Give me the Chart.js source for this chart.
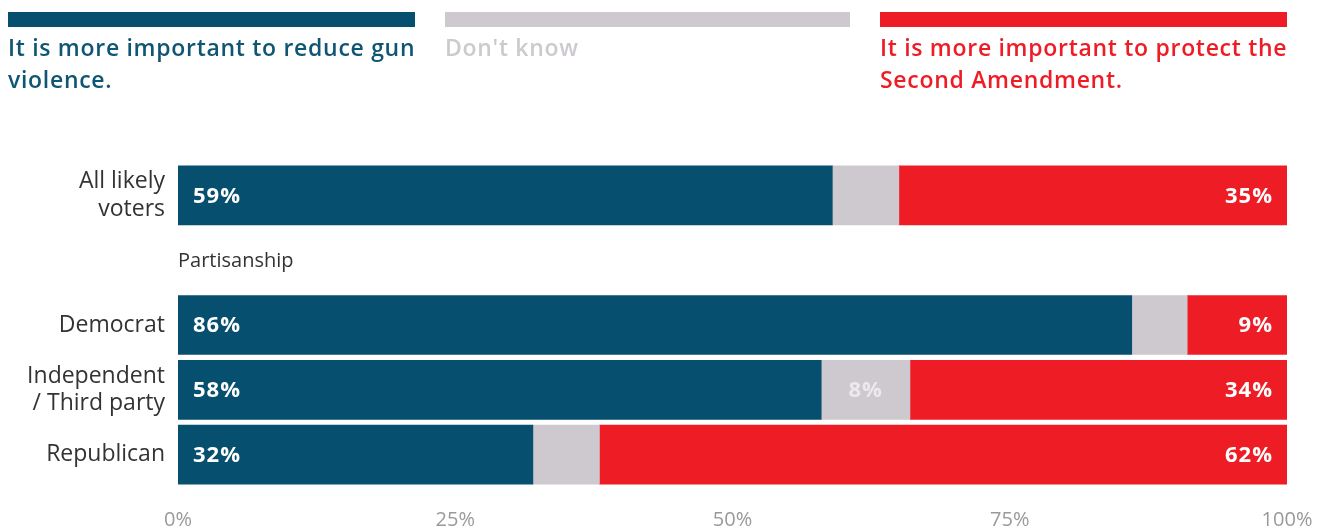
<!DOCTYPE html>
<html>
<head>
<meta charset="utf-8">
<script src="https://cdn.jsdelivr.net/npm/chart.js@4/dist/chart.umd.min.js"></script>
<style>
  html, body { margin: 0; padding: 0; background: #fff; }
  #wrap { position: relative; width: 1326px; height: 531px; }
  #legend { position: absolute; left: 0; top: 0; width: 1326px; height: 150px; }
  .item { position: absolute; top: 12px; }
  .swatch { height: 15px; }
  .txt { font-family: "Open Sans", sans-serif; font-weight: 600; font-size: 23px; letter-spacing: 0.7px; line-height: 32px; margin-top: 4px; white-space: pre; }
</style>
</head>
<body>
<div id="wrap">
  <canvas id="myChart" width="1326" height="531"></canvas>
  <div id="legend"></div>
</div>
<script>
'use strict';

// Categories (index 1 is the empty row holding the "Partisanship" heading)
var categories = [["All likely", "voters"], "", "Democrat", ["Independent", "/ Third party"], "Republican"];
var sectionLabels = ["", "Partisanship", "", "", ""];

// Series values (percent)
var seriesNames = ["It is more important to reduce gun\nviolence.", "Don't know", "It is more important to protect the\nSecond Amendment."];
var reduceViolence = [59, null, 86, 58, 32];
var dontKnow = [6, null, 5, 8, 6];
var protectSecond = [35, null, 9, 34, 62];

var xTicks = [0, 25, 50, 75, 100];

var colors = ["#064f6e", "#cdc9ce", "#ee1d25"];
var legendText = ["#0f5674", "#cdc9ce", "#ee1d25"];

(function () {
   // Legend over the top of the canvas
   var legendPos = [[8, 407], [445, 405], [880, 407]];
   var legend = document.getElementById('legend');
   for (var i = 0; i < seriesNames.length; i++) {
      var el = document.createElement('div');
      el.className = 'item';
      el.style.left = legendPos[i][0] + 'px';
      el.style.width = legendPos[i][1] + 'px';
      el.innerHTML = '<div class="swatch" style="background:' + colors[i] + '"></div>' +
         '<div class="txt" style="color:' + legendText[i] + '"></div>';
      el.querySelector('.txt').textContent = seriesNames[i];
      legend.appendChild(el);
   }

   // Draws the percentages inside the bars and the section heading
   var barLabels = {
      id: 'barLabels',
      afterDatasetsDraw: function (chart) {
         var ctx = chart.ctx;
         ctx.save();
         ctx.textBaseline = 'middle';
         ctx.font = '700 22px "Open Sans", sans-serif';
         ctx.letterSpacing = '1px';
         chart.data.datasets.forEach(function (ds, di) {
            var meta = chart.getDatasetMeta(di);
            meta.data.forEach(function (bar, i) {
               var v = ds.data[i];
               if (v == null) return;
               var left = Math.min(bar.x, bar.base);
               var right = Math.max(bar.x, bar.base);
               if (di === 0) {
                  ctx.fillStyle = '#ffffff';
                  ctx.textAlign = 'left';
                  ctx.fillText(v + '%', left + 15, bar.y + 1);
               } else if (di === 2) {
                  ctx.fillStyle = '#ffffff';
                  ctx.textAlign = 'right';
                  ctx.fillText(v + '%', right - 14, bar.y + 1);
               } else if (v >= 8) {
                  ctx.fillStyle = '#ebe9ec';
                  ctx.textAlign = 'center';
                  ctx.fillText(v + '%', (left + right) / 2, bar.y + 1);
               }
            });
         });
         // section heading
         var y = chart.scales.y;
         ctx.letterSpacing = '0px';
         ctx.font = '400 20px "Open Sans", sans-serif';
         ctx.fillStyle = '#333333';
         ctx.textAlign = 'left';
         sectionLabels.forEach(function (s, i) {
            if (s) ctx.fillText(s, chart.chartArea.left, y.getPixelForValue(i) + 1);
         });
         ctx.restore();
      }
   };

   var ctx = document.getElementById('myChart');
   new Chart(ctx, {
      type: 'bar',
      data: {
         labels: categories,
         datasets: [
            { label: seriesNames[0], data: reduceViolence, backgroundColor: colors[0], barThickness: 59 },
            { label: seriesNames[1], data: dontKnow, backgroundColor: colors[1], barThickness: 59 },
            { label: seriesNames[2], data: protectSecond, backgroundColor: colors[2], barThickness: 59 }
         ]
      },
      options: {
         indexAxis: 'y',
         responsive: false,
         animation: false,
         layout: { padding: { top: 163, right: 39, left: 0, bottom: 0 } },
         plugins: { legend: { display: false }, tooltip: { enabled: false } },
         scales: {
            x: {
               stacked: true,
               min: 0,
               max: 100,
               afterBuildTicks: function (scale) {
                  scale.ticks = xTicks.map(function (v) { return { value: v }; });
               },
               grid: { display: false, drawTicks: false },
               border: { display: false },
               ticks: {
                  padding: 21,
                  color: '#9a9a9a',
                  font: { family: '"Open Sans", sans-serif', size: 20 },
                  callback: function (v) { return v + '%'; }
               },
               afterFit: function (scale) {
                  scale.height = 44;
                  scale.paddingLeft = 0;
                  scale.paddingRight = 0;
               }
            },
            y: {
               stacked: true,
               grid: { display: false, drawTicks: false },
               border: { display: false },
               ticks: {
                  padding: 13,
                  color: '#333333',
                  font: { family: '"Open Sans", sans-serif', size: 23, lineHeight: 1.18 }
               },
               afterFit: function (scale) {
                  scale.width = 178;
                  scale.paddingTop = 0;
                  scale.paddingBottom = 0;
               }
            }
         }
      },
      plugins: [barLabels]
   });
})();
</script>
</body>
</html>
